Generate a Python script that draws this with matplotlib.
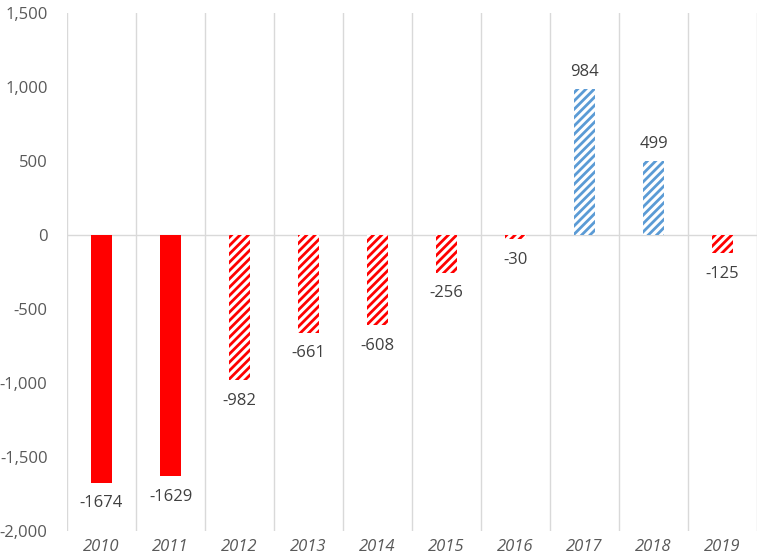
import matplotlib.pyplot as plt
from matplotlib.ticker import FuncFormatter
import numpy as np

years = ['2010', '2011', '2012', '2013', '2014', '2015', '2016', '2017', '2018', '2019']
values = [-1674, -1629, -982, -661, -608, -256, -30, 984, 499, -125]
solid = [True, True, False, False, False, False, False, False, False, False]

red = '#FF0000'
blue = '#5B9BD5'

plt.rcParams['font.family'] = ['Open Sans', 'DejaVu Sans']
plt.rcParams['hatch.linewidth'] = 2.0

fig = plt.figure(figsize=(7.59, 5.58), dpi=100)
ax = fig.add_axes([67 / 759, 27 / 558, 690 / 759, 518 / 558])

x = np.arange(len(years))
for i, (v, s) in enumerate(zip(values, solid)):
    c = blue if v > 0 else red
    if s:
        ax.bar(x[i], v, width=0.3, color=c, linewidth=0, zorder=3)
    else:
        ax.bar(x[i], v, width=0.3, facecolor='white', edgecolor=c,
               hatch='////', linewidth=0, zorder=3)
    if v > 0:
        ax.text(x[i], v + 60, str(v), ha='center', va='bottom',
                fontsize=12, color='#404040')
    else:
        ax.text(x[i], v - 85, str(v), ha='center', va='top',
                fontsize=12, color='#404040')

ax.set_xlim(-0.5, len(years) - 0.5)
ax.set_ylim(-2000, 1500)
ax.set_yticks(np.arange(-2000, 1501, 500))
ax.yaxis.set_major_formatter(FuncFormatter(lambda v, p: f'{int(v):,}'))

# gridlines between categories
for b in np.arange(-0.5, len(years), 1.0):
    ax.axvline(b, color='#D9D9D9', linewidth=1, zorder=1)
ax.axhline(0, color='#D9D9D9', linewidth=1, zorder=2)

ax.set_xticks(x)
ax.set_xticklabels(years, fontstyle='italic')
for s in ax.spines.values():
    s.set_visible(False)
ax.tick_params(length=0, labelsize=12, colors='#595959')
ax.tick_params(axis='y', pad=14)
ax.tick_params(axis='x', pad=6)

plt.savefig('out.png', dpi=100)
